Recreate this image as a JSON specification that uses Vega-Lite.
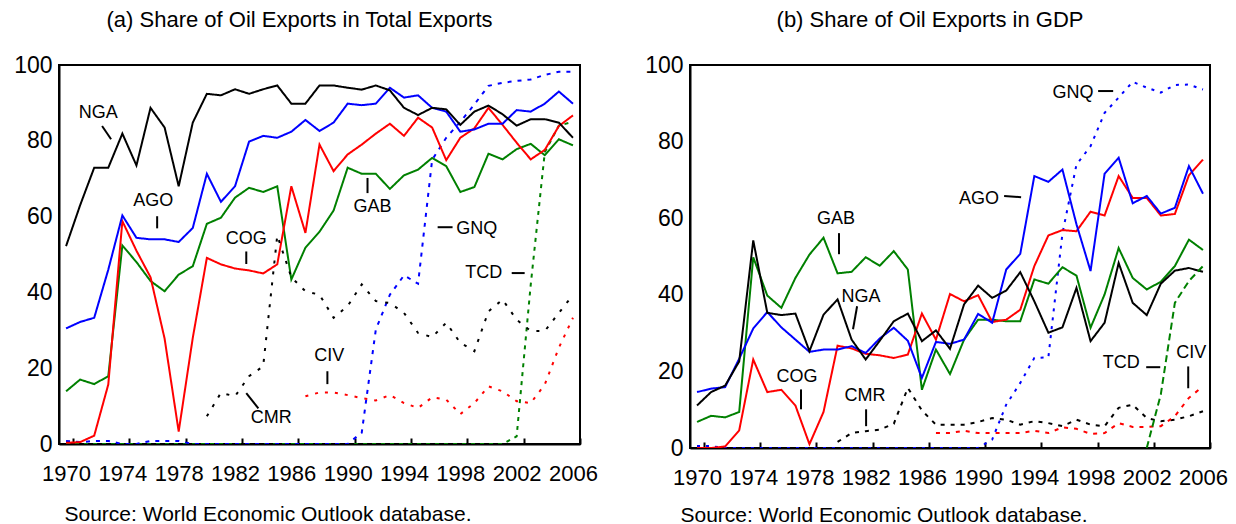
{
  "$schema": "https://vega.github.io/schema/vega-lite/v6.json",
  "background": "white",
  "padding": {"top": 8, "left": 12, "right": 5, "bottom": 0},
  "config": {
    "font": "Liberation Sans",
    "view": {"stroke": "black", "strokeWidth": 2},
    "axis": {"labelFontSize": 22, "labelColor": "black", "domainColor": "black", "domainWidth": 2, "tickColor": "black", "tickWidth": 2, "grid": false, "labelFont": "Liberation Sans", "titleFont": "Liberation Sans", "titleFontWeight": "normal", "titleColor": "black", "labelOverlap": false},
    "title": {"font": "Liberation Sans", "fontWeight": "normal", "fontSize": 22, "color": "black"},
    "text": {"font": "Liberation Sans"}
  },
  "datasets": {
    "a": [
      {"yr":1970,"NGA":52.2,"AGO":30.5,"COG":0.3,"GAB":13.9,"GNQ":0.8,"TCD":0},
      {"yr":1971,"NGA":63,"AGO":32.2,"COG":0.5,"GAB":17,"GNQ":0.5,"TCD":0},
      {"yr":1972,"NGA":72.9,"AGO":33.3,"COG":2.2,"GAB":15.8,"GNQ":0.8,"TCD":0},
      {"yr":1973,"NGA":72.9,"AGO":46,"COG":15.7,"GAB":17.9,"GNQ":0.8,"TCD":0},
      {"yr":1974,"NGA":81.9,"AGO":60.3,"COG":58.8,"GAB":52.4,"GNQ":0,"TCD":0},
      {"yr":1975,"NGA":73.5,"AGO":54.4,"COG":51,"GAB":48,"GNQ":0,"TCD":0},
      {"yr":1976,"NGA":88.7,"AGO":54,"COG":44,"GAB":43,"GNQ":0.8,"TCD":0},
      {"yr":1977,"NGA":83.5,"AGO":54,"COG":27.8,"GAB":40.3,"GNQ":0.8,"TCD":0},
      {"yr":1978,"NGA":68,"AGO":53.3,"COG":3.3,"GAB":44.7,"GNQ":0.8,"TCD":0},
      {"yr":1979,"NGA":84.8,"AGO":57,"COG":28,"GAB":46.9,"GNQ":0,"TCD":0},
      {"yr":1980,"NGA":92.4,"AGO":71.3,"COG":49.1,"GAB":58.1,"GNQ":0,"TCD":0,"CMR":7.3},
      {"yr":1981,"NGA":92,"AGO":63.9,"COG":47.4,"GAB":59.7,"GNQ":0,"TCD":0,"CMR":13.5},
      {"yr":1982,"NGA":93.6,"AGO":68,"COG":46.3,"GAB":65,"GNQ":0,"TCD":0,"CMR":12.6},
      {"yr":1983,"NGA":92.4,"AGO":79.8,"COG":45.8,"GAB":67.6,"GNQ":0,"TCD":0,"CMR":17.9},
      {"yr":1984,"NGA":93.6,"AGO":81.3,"COG":45,"GAB":66.5,"GNQ":0,"TCD":0,"CMR":20.5},
      {"yr":1985,"NGA":94.6,"AGO":80.8,"COG":47.4,"GAB":68,"GNQ":0,"TCD":0,"CMR":55},
      {"yr":1986,"NGA":89.8,"AGO":82.4,"COG":68,"GAB":43.4,"GNQ":0,"TCD":0,"CMR":44},
      {"yr":1987,"NGA":89.8,"AGO":85.5,"COG":55.7,"GAB":51.8,"GNQ":0,"TCD":0,"CMR":40.3,"CIV":12.6},
      {"yr":1988,"NGA":94.6,"AGO":82.6,"COG":79,"GAB":56,"GNQ":0,"TCD":0,"CMR":39.4,"CIV":13.6},
      {"yr":1989,"NGA":94.6,"AGO":84.8,"COG":72,"GAB":61.6,"GNQ":0,"TCD":0,"CMR":33.3,"CIV":13.6},
      {"yr":1990,"NGA":94,"AGO":89.8,"COG":76.4,"GAB":72.9,"GNQ":0,"TCD":0,"CMR":36.4,"CIV":12.9},
      {"yr":1991,"NGA":93.5,"AGO":89.4,"COG":79,"GAB":71.3,"GNQ":3,"TCD":0,"CMR":42.1,"CIV":12.1},
      {"yr":1992,"NGA":94.6,"AGO":89.8,"COG":81.9,"GAB":71.3,"GNQ":30.2,"TCD":0,"CMR":37.7,"CIV":11.5},
      {"yr":1993,"NGA":93.3,"AGO":94,"COG":84.5,"GAB":67.3,"GNQ":39.4,"TCD":0,"CMR":37.2,"CIV":12.9},
      {"yr":1994,"NGA":88.7,"AGO":91.4,"COG":81.3,"GAB":70.9,"GNQ":44.5,"TCD":0,"CMR":34.6,"CIV":10.8},
      {"yr":1995,"NGA":86.8,"AGO":92,"COG":86.1,"GAB":72.4,"GNQ":42.3,"TCD":0,"CMR":29.3,"CIV":9.5},
      {"yr":1996,"NGA":88.7,"AGO":88.7,"COG":83.5,"GAB":75.5,"GNQ":75,"TCD":0,"CMR":28.2,"CIV":12.3},
      {"yr":1997,"NGA":88.3,"AGO":87.7,"COG":74.9,"GAB":73.3,"GNQ":80.8,"TCD":0,"CMR":32,"CIV":11.7},
      {"yr":1998,"NGA":84.2,"AGO":82.4,"COG":80.8,"GAB":66.5,"GNQ":85,"TCD":0,"CMR":26.7,"CIV":7.9},
      {"yr":1999,"NGA":87.7,"AGO":83,"COG":83.3,"GAB":67.8,"GNQ":89.6,"TCD":0,"CMR":24.5,"CIV":10.8},
      {"yr":2000,"NGA":89.3,"AGO":84.5,"COG":88.7,"GAB":76.6,"GNQ":94.5,"TCD":0,"CMR":35,"CIV":15.2},
      {"yr":2001,"NGA":87,"AGO":84.5,"COG":84.2,"GAB":75.1,"GNQ":95.3,"TCD":0,"CMR":38.1,"CIV":13.9},
      {"yr":2002,"NGA":84,"AGO":88.1,"COG":79.5,"GAB":77.8,"GNQ":95.8,"TCD":2,"CMR":32.8,"CIV":11.3},
      {"yr":2003,"NGA":85.7,"AGO":87.7,"COG":75.1,"GAB":79.2,"GNQ":96.2,"TCD":42,"CMR":29.8,"CIV":10.8},
      {"yr":2004,"NGA":85.7,"AGO":89.8,"COG":77.6,"GAB":76.2,"GNQ":97.4,"TCD":77,"CMR":29.8,"CIV":15.7},
      {"yr":2005,"NGA":84.8,"AGO":93,"COG":83.9,"GAB":80.4,"GNQ":98.2,"TCD":84,"CMR":34.6,"CIV":25.4},
      {"yr":2006,"NGA":80.8,"AGO":89.8,"COG":86.7,"GAB":78.8,"GNQ":98.2,"TCD":85,"CMR":39.3,"CIV":33.3}
    ],
    "b": [
      {"yr":1970,"NGA":11.1,"AGO":14.6,"COG":0,"GAB":6.8,"GNQ":0.5},
      {"yr":1971,"NGA":14.6,"AGO":15.5,"COG":0,"GAB":8.4,"GNQ":0.5},
      {"yr":1972,"NGA":16.3,"AGO":15.9,"COG":0.4,"GAB":8,"GNQ":0},
      {"yr":1973,"NGA":22.6,"AGO":23.3,"COG":4.6,"GAB":9.4,"GNQ":0},
      {"yr":1974,"NGA":54.2,"AGO":31.2,"COG":23.1,"GAB":49.8,"GNQ":0},
      {"yr":1975,"NGA":35.3,"AGO":35.5,"COG":14.6,"GAB":39.8,"GNQ":0},
      {"yr":1976,"NGA":34.7,"AGO":31.5,"COG":15.2,"GAB":36.6,"GNQ":0},
      {"yr":1977,"NGA":35.1,"AGO":28.3,"COG":11.1,"GAB":44.4,"GNQ":0},
      {"yr":1978,"NGA":25.3,"AGO":25.1,"COG":1,"GAB":50.5,"GNQ":0},
      {"yr":1979,"NGA":34.8,"AGO":25.7,"COG":9.4,"GAB":54.9,"GNQ":0},
      {"yr":1980,"NGA":38.8,"AGO":25.7,"COG":26.7,"GAB":45.6,"GNQ":0,"CMR":1.6},
      {"yr":1981,"NGA":28.3,"AGO":26.6,"COG":26,"GAB":46,"GNQ":0,"CMR":3.9},
      {"yr":1982,"NGA":23.1,"AGO":24.8,"COG":24.6,"GAB":49.8,"GNQ":0,"CMR":4.4},
      {"yr":1983,"NGA":28,"AGO":28.6,"COG":24.2,"GAB":47.6,"GNQ":0,"CMR":4.8},
      {"yr":1984,"NGA":33.1,"AGO":31.4,"COG":23.5,"GAB":51.4,"GNQ":0,"CMR":6.3},
      {"yr":1985,"NGA":35.1,"AGO":28,"COG":24.4,"GAB":46.6,"GNQ":0,"CMR":15.7},
      {"yr":1986,"NGA":27.9,"AGO":18.3,"COG":35.1,"GAB":15.2,"GNQ":0,"CMR":9.8},
      {"yr":1987,"NGA":30.7,"AGO":27.7,"COG":28.3,"GAB":25.7,"GNQ":0,"CMR":6.1,"CIV":3.9},
      {"yr":1988,"NGA":25.9,"AGO":27.2,"COG":40.2,"GAB":19.3,"GNQ":0,"CMR":6.1,"CIV":3.9},
      {"yr":1989,"NGA":37.5,"AGO":28.3,"COG":38.3,"GAB":28.3,"GNQ":0,"CMR":6.1,"CIV":4.5},
      {"yr":1990,"NGA":42.4,"AGO":35,"COG":39.9,"GAB":33.5,"GNQ":0,"CMR":6.8,"CIV":3.9},
      {"yr":1991,"NGA":39.2,"AGO":32.7,"COG":32.9,"GAB":33.5,"GNQ":2.2,"CMR":7.8,"CIV":3.9},
      {"yr":1992,"NGA":41.1,"AGO":46.6,"COG":33.5,"GAB":33.1,"GNQ":11.3,"CMR":7.4,"CIV":3.9},
      {"yr":1993,"NGA":45.9,"AGO":50.7,"COG":36.1,"GAB":33.1,"GNQ":17,"CMR":6.1,"CIV":3.9},
      {"yr":1994,"NGA":38.3,"AGO":71,"COG":47.5,"GAB":44,"GNQ":23.5,"CMR":7,"CIV":4.5},
      {"yr":1995,"NGA":30.1,"AGO":69.5,"COG":55.5,"GAB":42.9,"GNQ":23.7,"CMR":6.5,"CIV":3.9},
      {"yr":1996,"NGA":31.5,"AGO":72.7,"COG":56.9,"GAB":47.2,"GNQ":56,"CMR":5.7,"CIV":5.4},
      {"yr":1997,"NGA":41.8,"AGO":58.4,"COG":56.6,"GAB":45,"GNQ":74,"CMR":7.4,"CIV":5},
      {"yr":1998,"NGA":27.9,"AGO":46.2,"COG":61.7,"GAB":31.4,"GNQ":78.8,"CMR":6.1,"CIV":3.7},
      {"yr":1999,"NGA":32.7,"AGO":71.6,"COG":60.7,"GAB":40.1,"GNQ":87.5,"CMR":5.7,"CIV":3.9},
      {"yr":2000,"NGA":48.3,"AGO":75.8,"COG":71,"GAB":52.2,"GNQ":91.5,"CMR":10.5,"CIV":6.5},
      {"yr":2001,"NGA":37.9,"AGO":63.9,"COG":65.3,"GAB":44.4,"GNQ":95.6,"CMR":11.3,"CIV":5.5},
      {"yr":2002,"NGA":34.7,"AGO":65.8,"COG":65.3,"GAB":41.4,"GNQ":94.1,"TCD":0,"CMR":7.8,"CIV":5.5},
      {"yr":2003,"NGA":42.9,"AGO":61.2,"COG":60.7,"GAB":43.4,"GNQ":92.8,"TCD":14,"CMR":7,"CIV":5.7},
      {"yr":2004,"NGA":46.3,"AGO":62.7,"COG":61.1,"GAB":47.5,"GNQ":94.8,"TCD":37.9,"CMR":7.4,"CIV":8.3},
      {"yr":2005,"NGA":47,"AGO":73.6,"COG":71.2,"GAB":54.4,"GNQ":94.9,"TCD":43.6,"CMR":8.3,"CIV":13.1},
      {"yr":2006,"NGA":46,"AGO":66.4,"COG":75.3,"GAB":51.7,"GNQ":93.6,"TCD":47.5,"CMR":9.6,"CIV":16.1}
    ],
    "la": [
      {"t":"NGA","x":1972.28,"y":87.3},
      {"t":"AGO","x":1976.19,"y":64.0},
      {"t":"COG","x":1982.8,"y":54.0},
      {"t":"GAB","x":1991.76,"y":62.5},
      {"t":"GNQ","x":1999.16,"y":56.7},
      {"t":"TCD","x":1999.66,"y":45.1},
      {"t":"CIV","x":1988.7,"y":23.2},
      {"t":"CMR","x":1984.58,"y":6.8}
    ],
    "ra": [
      {"x":1972.56,"y":83.9,"x2":1973.2,"y2":80.4},
      {"x":1976.47,"y":60.1,"x2":1976.47,"y2":56.9},
      {"x":1982.8,"y":50.8,"x2":1982.8,"y2":47.5},
      {"x":1991.41,"y":70.2,"x2":1991.41,"y2":66.2},
      {"x":1996.39,"y":57.2,"x2":1997.45,"y2":57.2},
      {"x":2001.65,"y":45.1,"x2":2002.57,"y2":45.1},
      {"x":1988.56,"y":19.2,"x2":1988.56,"y2":15.8},
      {"x":1982.8,"y":13.4,"x2":1983.66,"y2":9.4}
    ],
    "lb": [
      {"t":"GNQ","x":1996.76,"y":92.7},
      {"t":"AGO","x":1990.07,"y":64.9},
      {"t":"GAB","x":1979.89,"y":59.7},
      {"t":"NGA","x":1981.67,"y":39.4},
      {"t":"COG","x":1977.12,"y":18.5},
      {"t":"CMR","x":1981.96,"y":13.5},
      {"t":"TCD","x":2000.18,"y":22.1},
      {"t":"CIV","x":2005.16,"y":24.7}
    ],
    "rb": [
      {"x":1998.54,"y":93.2,"x2":1999.61,"y2":93.2},
      {"x":1991.85,"y":65.8,"x2":1993.06,"y2":65.5},
      {"x":1980.1,"y":56.1,"x2":1980.1,"y2":50.6},
      {"x":1981.39,"y":37.0,"x2":1981.1,"y2":31.0},
      {"x":1977.4,"y":15.3,"x2":1977.4,"y2":10.1},
      {"x":1982.03,"y":10.1,"x2":1982.03,"y2":5.7},
      {"x":2001.96,"y":21.1,"x2":2002.96,"y2":21.1},
      {"x":2004.95,"y":21.3,"x2":2004.95,"y2":15.6}
    ]
  },
  "hconcat": [
    {
      "width": 521,
      "height": 379,
      "title": {"text": "(a) Share of Oil Exports in Total Exports", "offset": 22, "anchor": "middle", "dx": -20},
      "layer": [
        {
          "data": {"name": "a"},
          "transform": [
            {"fold": ["CMR","CIV","TCD","GNQ","GAB","COG","AGO","NGA"], "as": ["s","v"]},
            {"filter": "isValid(datum.v)"}
          ],
          "mark": {"type": "line", "clip": true},
          "encoding": {
            "x": {"field": "yr", "type": "quantitative",
              "scale": {"domain": [1969.5, 2006.5], "nice": false, "zero": false},
              "axis": {"values": [1970,1971,1972,1973,1974,1975,1976,1977,1978,1979,1980,1981,1982,1983,1984,1985,1986,1987,1988,1989,1990,1991,1992,1993,1994,1995,1996,1997,1998,1999,2000,2001,2002,2003,2004,2005,2006],
                "format": "d", "labelExpr": "datum.value % 4 == 2 ? datum.label : ''",
                "tickSize": -6, "tickOffset": 7, "labelOffset": -7, "labelPadding": 25, "labelFlush": false,
                "title": "Source: World Economic Outlook database.", "titleFontSize": 21, "titleAnchor": "start", "titleAlign": "left", "titleX": 5, "titlePadding": 19}},
            "y": {"field": "v", "type": "quantitative",
              "scale": {"domain": [0, 100], "nice": false},
              "axis": {"values": [0,10,20,30,40,50,60,70,80,90,100], "tickSize": 0, "labelPadding": 7, "title": null, "labelFontSize": 23}},
            "color": {"field": "s", "type": "nominal", "legend": null,
              "scale": {"domain": ["NGA","AGO","COG","GAB","GNQ","TCD","CMR","CIV"], "range": ["#000000","#0000ff","#ff0000","#008000","#0000ff","#008000","#000000","#ff0000"]}},
            "strokeDash": {"field": "s", "type": "nominal", "legend": null,
              "scale": {"domain": ["NGA","AGO","COG","GAB","GNQ","TCD","CMR","CIV"], "range": [[1,0],[1,0],[1,0],[1,0],[4,6],[4,5],[3,8],[3,7]]}},
            "strokeWidth": {"field": "s", "type": "nominal", "legend": null,
              "scale": {"domain": ["NGA","AGO","COG","GAB","GNQ","TCD","CMR","CIV"], "range": [2,2,2,2,2.5,2.5,2.2,2.2]}}
          }
        },
        {
          "data": {"name": "ra"},
          "mark": {"type": "rule", "color": "black", "strokeWidth": 2},
          "encoding": {
            "x": {"field": "x", "type": "quantitative"},
            "y": {"field": "y", "type": "quantitative"},
            "x2": {"field": "x2"},
            "y2": {"field": "y2"}
          }
        },
        {
          "data": {"name": "la"},
          "mark": {"type": "text", "fontSize": 18, "color": "black", "align": "center", "baseline": "middle"},
          "encoding": {
            "x": {"field": "x", "type": "quantitative"},
            "y": {"field": "y", "type": "quantitative"},
            "text": {"field": "t"}
          }
        }
      ]
    },
    {
      "width": 520,
      "height": 383,
      "title": {"text": "(b) Share of Oil Exports in GDP", "offset": 22, "anchor": "middle", "dx": -20},
      "layer": [
        {
          "data": {"name": "b"},
          "transform": [
            {"fold": ["CMR","CIV","TCD","GNQ","GAB","COG","AGO","NGA"], "as": ["s","v"]},
            {"filter": "isValid(datum.v)"}
          ],
          "mark": {"type": "line", "clip": true},
          "encoding": {
            "x": {"field": "yr", "type": "quantitative",
              "scale": {"domain": [1969.5, 2006.5], "nice": false, "zero": false},
              "axis": {"values": [1970,1971,1972,1973,1974,1975,1976,1977,1978,1979,1980,1981,1982,1983,1984,1985,1986,1987,1988,1989,1990,1991,1992,1993,1994,1995,1996,1997,1998,1999,2000,2001,2002,2003,2004,2005,2006],
                "format": "d", "labelExpr": "datum.value % 4 == 2 ? datum.label : ''",
                "tickSize": -6, "tickOffset": 7, "labelOffset": -7, "labelPadding": 25, "labelFlush": false,
                "title": "Source: World Economic Outlook database.", "titleFontSize": 21, "titleAnchor": "start", "titleAlign": "left", "titleX": -10, "titlePadding": 16}},
            "y": {"field": "v", "type": "quantitative",
              "scale": {"domain": [0, 100], "nice": false},
              "axis": {"values": [0,10,20,30,40,50,60,70,80,90,100], "tickSize": 0, "labelPadding": 7, "title": null, "labelFontSize": 23}},
            "color": {"field": "s", "type": "nominal", "legend": null,
              "scale": {"domain": ["NGA","AGO","COG","GAB","GNQ","TCD","CMR","CIV"], "range": ["#000000","#0000ff","#ff0000","#008000","#0000ff","#008000","#000000","#ff0000"]}},
            "strokeDash": {"field": "s", "type": "nominal", "legend": null,
              "scale": {"domain": ["NGA","AGO","COG","GAB","GNQ","TCD","CMR","CIV"], "range": [[1,0],[1,0],[1,0],[1,0],[3,6],[7,4],[4,6],[4,6]]}},
            "strokeWidth": {"field": "s", "type": "nominal", "legend": null,
              "scale": {"domain": ["NGA","AGO","COG","GAB","GNQ","TCD","CMR","CIV"], "range": [2,2,2,2,2.5,1,2,2]}}
          }
        },
        {
          "data": {"name": "rb"},
          "mark": {"type": "rule", "color": "black", "strokeWidth": 2},
          "encoding": {
            "x": {"field": "x", "type": "quantitative"},
            "y": {"field": "y", "type": "quantitative"},
            "x2": {"field": "x2"},
            "y2": {"field": "y2"}
          }
        },
        {
          "data": {"name": "lb"},
          "mark": {"type": "text", "fontSize": 18, "color": "black", "align": "center", "baseline": "middle"},
          "encoding": {
            "x": {"field": "x", "type": "quantitative"},
            "y": {"field": "y", "type": "quantitative"},
            "text": {"field": "t"}
          }
        }
      ]
    }
  ],
  "spacing": 44,
  "resolve": {"scale": {"strokeDash": "independent", "strokeWidth": "independent", "x": "independent", "y": "independent"}}
}
